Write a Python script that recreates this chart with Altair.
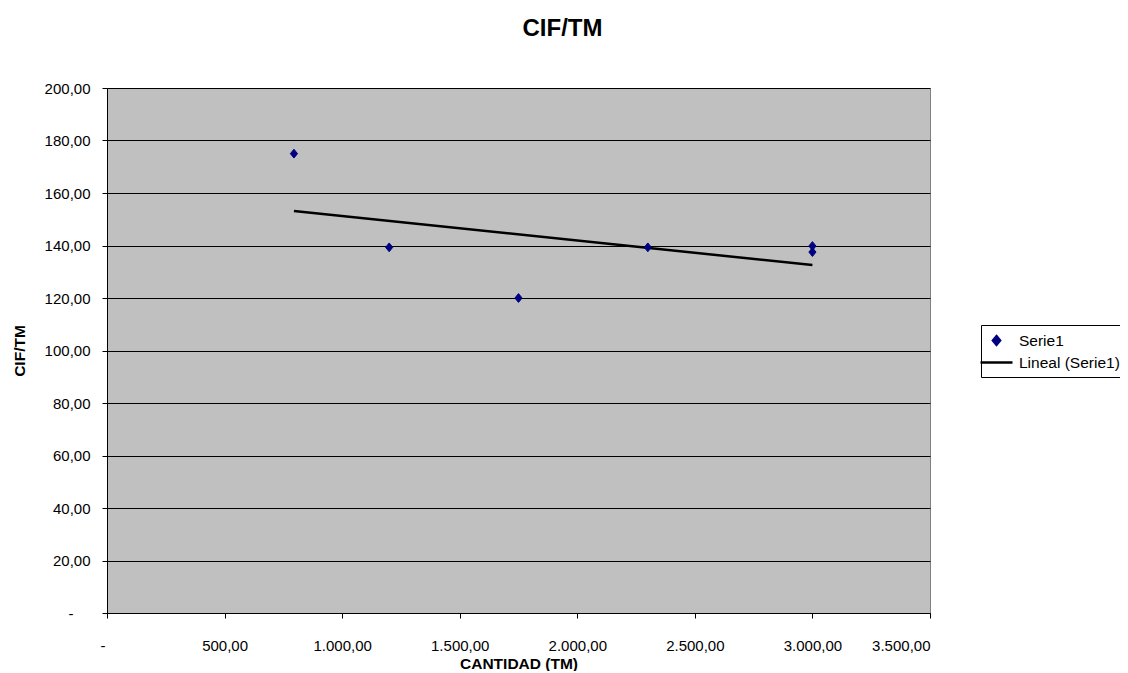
import altair as alt
import pandas as pd

# Data
cantidad = [795, 1200, 1750, 2300, 3000, 3000]
cif_tm = [175.0, 139.3, 120.0, 139.3, 139.8, 137.5]
series_names = ["Serie1", "Lineal (Serie1)"]
series_colors = ["#000080", "#000000"]
series_shapes = ["M0,-0.55L0.45,0L0,0.55L-0.45,0Z", "M-2,0L2,0"]
x_ticks = [0, 500, 1000, 1500, 2000, 2500, 3000, 3500]
y_ticks = [0, 20, 40, 60, 80, 100, 120, 140, 160, 180, 200]

df = pd.DataFrame({"x": cantidad, "y": cif_tm, "series": [series_names[0]] * len(cantidad)})

FONT = "Liberation Sans"

color_scale = alt.Scale(domain=series_names, range=series_colors)
shape_scale = alt.Scale(domain=series_names, range=series_shapes)

legend = alt.Legend(
    title=None, orient="none", legendX=874, legendY=237,
    strokeColor="black", fillColor="white", padding=6,
    labelFont=FONT, labelFontSize=15.5, labelColor="black",
    symbolStrokeWidth=2.5, symbolSize=256, labelOffset=13,
    rowPadding=3, cornerRadius=0,
)

x_enc = alt.X(
    "x:Q",
    scale=alt.Scale(domain=[0, 3500], nice=False, zero=True),
    axis=alt.Axis(
        values=x_ticks, title="CANTIDAD (TM)", grid=False,
        labelExpr="datum.value == 0 ? '-' : replace(replace(replace(format(datum.value, ',.2f'), ',', '_'), '.', ','), '_', '.')",
        labelOffset={"condition": {"test": "datum.value == 0", "value": -7}, "value": 0},
        labelPadding=20, tickSize=5, titlePadding=3,
    ),
)
y_enc = alt.Y(
    "y:Q",
    scale=alt.Scale(domain=[0, 200], nice=False),
    axis=alt.Axis(
        values=y_ticks, title="CIF/TM", grid=True,
        labelExpr="datum.value == 0 ? '-' : replace(format(datum.value, '.2f'), '.', ',')",
        labelPadding={"condition": {"test": "datum.value == 0", "value": 29}, "value": 12},
        tickSize=5, titlePadding=17,
    ),
)

base = alt.Chart(df)

line = base.transform_regression("x", "y").transform_calculate(
    series=f"'{series_names[1]}'"
).mark_line(strokeWidth=2.5).encode(
    x=x_enc, y=y_enc,
    color=alt.Color("series:N", scale=color_scale, legend=legend),
)

points = base.mark_point(filled=False, size=256, strokeWidth=1, opacity=1).encode(
    x=x_enc, y=y_enc,
    color=alt.Color("series:N", scale=color_scale, legend=legend),
    shape=alt.Shape("series:N", scale=shape_scale, legend=legend),
    fill=alt.value("#000080"),
)

chart = alt.layer(line, points).properties(
    width=823, height=525,
    autosize="none",
    background="white",
    padding={"left": 99, "top": 80, "right": 190, "bottom": 58},
    title=alt.TitleParams("CIF/TM", font=FONT, fontSize=24, fontWeight="bold",
                          color="black", anchor="middle", dx=44, offset=40),
).configure_view(
    fill="#C0C0C0", stroke="#808080", strokeWidth=1,
).configure_axis(
    labelFont=FONT, labelFontSize=15, labelColor="black",
    titleFont=FONT, titleFontSize=15.5, titleFontWeight="bold", titleColor="black",
    domainColor="black", tickColor="black", gridColor="black", gridWidth=1,
    gridOpacity=1, domainWidth=1, tickWidth=1,
)

chart.save("out.html", embed_options={"renderer": "svg", "actions": False})
